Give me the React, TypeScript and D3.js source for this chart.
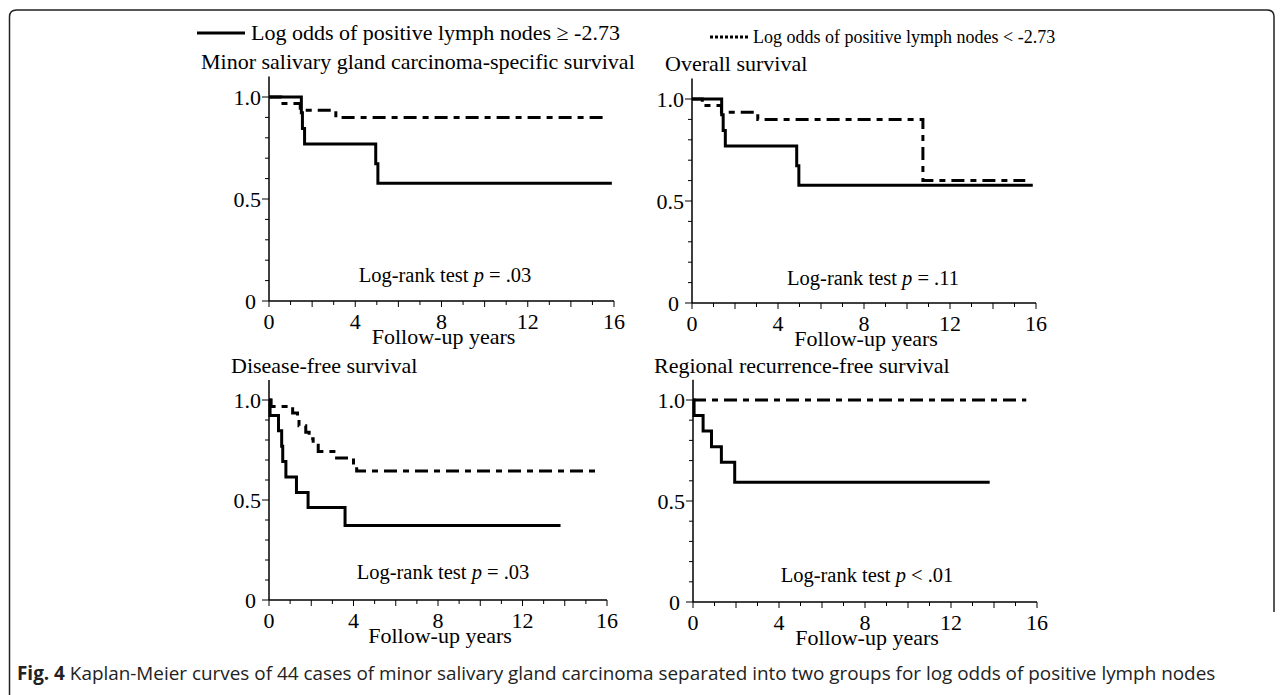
import React from "react";
import * as d3 from "d3";

type Pt = [number, number];

// ---- data (time in years, survival probability) ----
const cssHigh: Pt[] = [[0, 1], [1.5, 0.923], [1.55, 0.846], [1.65, 0.769], [4.95, 0.673], [5.05, 0.577]];
const cssHighEnd = 15.9;
const cssLow: Pt[] = [[0, 1], [0.55, 0.968], [1.45, 0.935], [3.1, 0.9]];
const cssLowEnd = 15.55;

const osHigh: Pt[] = [[0, 1], [1.38, 0.923], [1.45, 0.846], [1.55, 0.769], [4.87, 0.673], [4.97, 0.577]];
const osHighEnd = 15.85;
const osLow: Pt[] = [[0, 1], [0.48, 0.968], [1.37, 0.935], [3.06, 0.9], [10.74, 0.6]];
const osLowEnd = 15.5;

const dfsHigh: Pt[] = [[0, 1], [0.05, 0.923], [0.45, 0.846], [0.6, 0.769], [0.65, 0.692], [0.8, 0.615], [1.3, 0.538], [1.85, 0.462], [3.6, 0.372]];
const dfsHighEnd = 13.8;
const dfsLow: Pt[] = [[0, 1], [0.1, 0.968], [1.12, 0.935], [1.35, 0.903], [1.42, 0.871], [1.74, 0.839], [1.9, 0.806], [2.09, 0.774], [2.33, 0.742], [3.2, 0.71], [4.0, 0.677], [4.15, 0.645]];
const dfsLowEnd = 15.5;

const rrfsHigh: Pt[] = [[0, 1], [0.05, 0.923], [0.47, 0.846], [0.86, 0.769], [1.32, 0.692], [1.94, 0.593]];
const rrfsHighEnd = 13.8;
const rrfsLow: Pt[] = [[0, 1]];
const rrfsLowEnd = 15.5;

const panelTitles = [
  "Minor salivary gland carcinoma-specific survival",
  "Overall survival",
  "Disease-free survival",
  "Regional recurrence-free survival",
];
const pValues = ["= .03", "= .11", "= .03", "< .01"];
const xTickLabels = [0, 4, 8, 12, 16];
const yTickLabels = [0, 0.5, 1.0];
const legendLabels = ["Log odds of positive lymph nodes \u2265 -2.73", "Log odds of positive lymph nodes < -2.73"];
const captionBold = "Fig. 4";
const captionText = " Kaplan-Meier curves of 44 cases of minor salivary gland carcinoma separated into two groups for log odds of positive lymph nodes";

const serif = "'Liberation Serif', 'Times New Roman', serif";

interface PanelCfg {
  x0: number; x1: number; y0: number; y1: number;
  title: string; titleX: number; titleY: number;
  p: string; pX: number; pY: number;
  high: Pt[]; highEnd: number; low: Pt[]; lowEnd: number;
}

const panels: PanelCfg[] = [
  { x0: 269, x1: 614, y0: 301, y1: 97, title: panelTitles[0], titleX: 201, titleY: 69, p: pValues[0], pX: 445, pY: 282, high: cssHigh, highEnd: cssHighEnd, low: cssLow, lowEnd: cssLowEnd },
  { x0: 692, x1: 1036, y0: 303, y1: 99, title: panelTitles[1], titleX: 665, titleY: 71, p: pValues[1], pX: 873, pY: 285, high: osHigh, highEnd: osHighEnd, low: osLow, lowEnd: osLowEnd },
  { x0: 269, x1: 607, y0: 600, y1: 400, title: panelTitles[2], titleX: 231, titleY: 373, p: pValues[2], pX: 443, pY: 579, high: dfsHigh, highEnd: dfsHighEnd, low: dfsLow, lowEnd: dfsLowEnd },
  { x0: 693, x1: 1037, y0: 602, y1: 400, title: panelTitles[3], titleX: 654, titleY: 373, p: pValues[3], pX: 867, pY: 582, high: rrfsHigh, highEnd: rrfsHighEnd, low: rrfsLow, lowEnd: rrfsLowEnd },
];

function Panel({ c }: { c: PanelCfg }) {
  const x = d3.scaleLinear().domain([0, 16]).range([c.x0, c.x1]);
  const y = d3.scaleLinear().domain([0, 1]).range([c.y0, c.y1]);
  const line = d3.line<Pt>().x((d) => x(d[0])).y((d) => y(d[1])).curve(d3.curveStepAfter);
  const withEnd = (pts: Pt[], end: number): Pt[] => [...pts, [end, pts[pts.length - 1][1]]];
  const yMinor = d3.range(0, 11).map((i) => i / 10);
  const xMinor = d3.range(0, 17);
  return (
    <g>
      <text x={c.titleX} y={c.titleY} fontFamily={serif} fontSize={22}>{c.title}</text>
      {/* y axis */}
      <line x1={c.x0} x2={c.x0} y1={y(0)} y2={y(1.1)} stroke="#000" strokeWidth={1.5} />
      {yMinor.map((v) => (
        <line key={v} x1={c.x0 - (Math.abs(v * 2 - Math.round(v * 2)) < 1e-9 ? 7 : 4)} x2={c.x0} y1={y(v)} y2={y(v)} stroke="#000" strokeWidth={1} />
      ))}
      {yTickLabels.map((v) => (
        <text key={v} x={c.x0 - (v === 0 ? 13 : 8)} y={y(v) + 7.5} textAnchor="end" fontFamily={serif} fontSize={22}>
          {v === 0 ? "0" : v.toFixed(1)}
        </text>
      ))}
      {/* x axis */}
      <line x1={c.x0} x2={c.x1} y1={c.y0} y2={c.y0} stroke="#000" strokeWidth={1.5} />
      {xMinor.map((v) => (
        <line key={v} x1={x(v)} x2={x(v)} y1={c.y0} y2={c.y0 + (v % 2 === 0 ? 6 : 4)} stroke="#000" strokeWidth={1} />
      ))}
      {xTickLabels.map((v) => (
        <text key={v} x={x(v)} y={c.y0 + 28} textAnchor="middle" fontFamily={serif} fontSize={22}>{v}</text>
      ))}
      <text x={(c.x0 + c.x1) / 2 + 2} y={c.y0 + 43} textAnchor="middle" fontFamily={serif} fontSize={22}>Follow-up years</text>
      <text x={c.pX} y={c.pY} textAnchor="middle" fontFamily={serif} fontSize={20.5}>
        Log-rank test <tspan fontStyle="italic">p</tspan> {c.p}
      </text>
      {/* curves */}
      <path d={line(withEnd(c.low, c.lowEnd)) || ""} fill="none" stroke="#000" strokeWidth={3} strokeDasharray="13,6,6,6" />
      <path d={line(withEnd(c.high, c.highEnd)) || ""} fill="none" stroke="#000" strokeWidth={3} />
    </g>
  );
}

export default function App() {
  const r = 7;
  const frame = `M9.5,695 L9.5,${10 + r} Q9.5,10 ${9.5 + r},10 L${1274 - r},10 Q1274,10 1274,${10 + r} L1274,612`;
  return (
    <svg width={1284} height={695} style={{ position: "absolute", left: 0, top: 0, background: "#fff" }}>
      <path d={frame} fill="none" stroke="#222" strokeWidth={1.5} />
      {/* legend */}
      <line x1={197} x2={245} y1={33} y2={33} stroke="#000" strokeWidth={3} />
      <text x={251} y={40} fontFamily={serif} fontSize={22}>{legendLabels[0]}</text>
      <line x1={710} x2={750} y1={37} y2={37} stroke="#000" strokeWidth={3} strokeDasharray="3,2" />
      <text x={753} y={43} fontFamily={serif} fontSize={18}>{legendLabels[1]}</text>
      {panels.map((c, i) => <Panel key={i} c={c} />)}
      <text x={17} y={680} fontFamily="'Open Sans', sans-serif" fontSize={18.9} fill="#222">
        <tspan fontWeight="bold">{captionBold}</tspan>{captionText}
      </text>
    </svg>
  );
}
